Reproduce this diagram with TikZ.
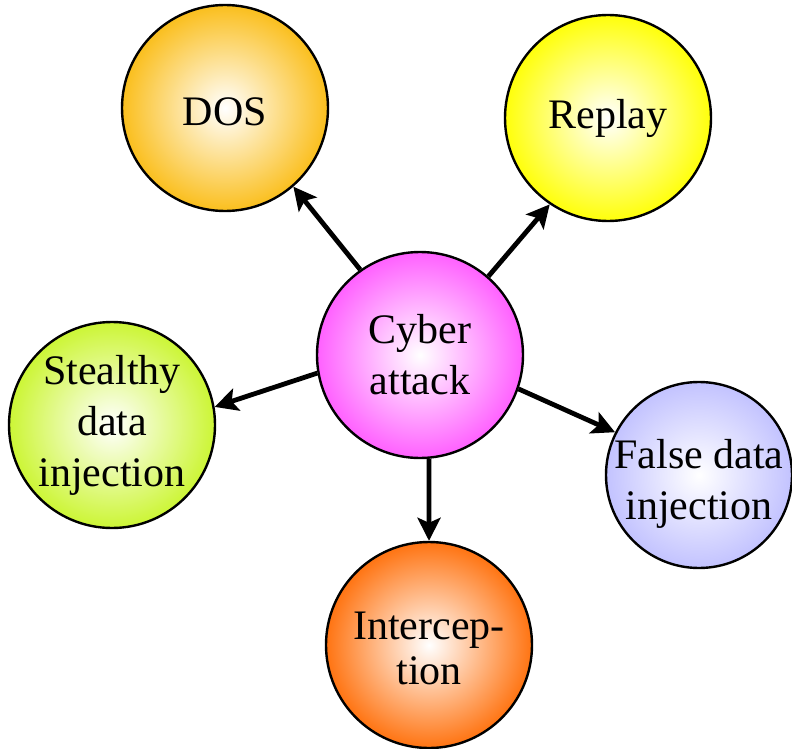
\documentclass[tikz,border=0pt]{standalone}
\usepackage{fontspec}
\setmainfont{Liberation Serif}
\usetikzlibrary{arrows.meta}

\definecolor{dosc}{RGB}{250,188,20}
\definecolor{replayc}{RGB}{255,255,0}
\definecolor{cyberc}{RGB}{255,90,255}
\definecolor{stealthc}{RGB}{202,245,45}
\definecolor{falsec}{RGB}{192,192,255}
\definecolor{interc}{RGB}{255,110,8}

% white-centred radial fills for the balls
\pgfdeclareradialshading{dosball}{\pgfpoint{0bp}{0bp}}{color(0bp)=(white); color(26bp)=(dosc); color(50bp)=(dosc)}
\pgfdeclareradialshading{replayball}{\pgfpoint{0bp}{0bp}}{color(0bp)=(white); color(26bp)=(replayc); color(50bp)=(replayc)}
\pgfdeclareradialshading{cyberball}{\pgfpoint{0bp}{0bp}}{color(0bp)=(white); color(26bp)=(cyberc); color(50bp)=(cyberc)}
\pgfdeclareradialshading{stealthball}{\pgfpoint{0bp}{0bp}}{color(0bp)=(white); color(26bp)=(stealthc); color(50bp)=(stealthc)}
\pgfdeclareradialshading{falseball}{\pgfpoint{0bp}{0bp}}{color(0bp)=(white); color(26bp)=(falsec); color(50bp)=(falsec)}
\pgfdeclareradialshading{interball}{\pgfpoint{0bp}{0bp}}{color(0bp)=(white); color(26bp)=(interc); color(50bp)=(interc)}

\tikzset{
  ball/.style={circle, draw=black, line width=2.4pt, inner sep=0pt, minimum size=206pt},
  lbl/.style={align=center, inner sep=0pt, font=\fontsize{42}{51}\selectfont},
  arr/.style={line width=4.8pt, -{Stealth[length=23pt,width=23pt,inset=5pt]}}
}

\begin{document}
\begin{tikzpicture}[x=1pt,y=-1pt]
\useasboundingbox (0,0) rectangle (792,749);

\node[ball, shading=cyberball, label={[lbl]center:Cyber\\attack}] (cyber) at (420,355) {};
\node[ball, shading=dosball, label={[lbl, yshift=-4pt]center:DOS}] (dos) at (225,108) {};
\node[ball, shading=replayball, label={[lbl]center:Replay}] (replay) at (608,118) {};
\node[ball, shading=stealthball, label={[lbl]center:Stealthy\\data\\injection}] (stealth) at (112,425) {};
\node[ball, shading=falseball, minimum size=186pt, label={[lbl, yshift=-9pt]center:False data\\injection}] (false) at (699,475) {};
\node[ball, shading=interball, label={[lbl, yshift=-3pt, font=\fontsize{42}{45}\selectfont]center:Intercep-\\tion}] (inter) at (429,645) {};

\draw[arr] (cyber.125) -- (dos.-49);
\draw[arr] (cyber.49) -- (replay.236);
\draw[arr] (cyber.190) -- (stealth.10);
\draw[arr] (cyber.-19) -- (false.153);
\draw[arr] (cyber.-85) -- (inter.90.5);
\end{tikzpicture}
\end{document}
